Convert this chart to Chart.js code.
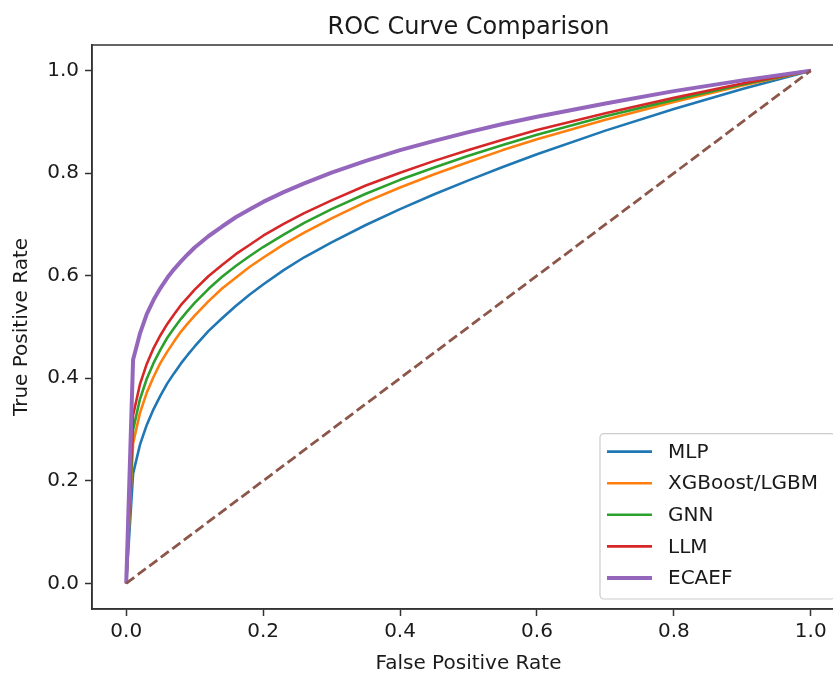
<!DOCTYPE html>
<html>
<head>
<meta charset="utf-8">
<script src="https://cdn.jsdelivr.net/npm/chart.js@4.4.1/dist/chart.umd.min.js"></script>
<style>
    html, body { margin: 0; padding: 0; overflow: hidden; background: #fff; }
    #wrap { width: 900px; height: 673px; }
</style>
</head>
<body>
<div id="wrap"><canvas id="rocChart" width="900" height="673"></canvas></div>
<script>
// values
const fpr = [0, 0.01, 0.02, 0.03, 0.04, 0.05, 0.06, 0.07, 0.08, 0.09, 0.1, 0.12, 0.14, 0.16, 0.18,
             0.2, 0.23, 0.26, 0.3, 0.35, 0.4, 0.45, 0.5, 0.55, 0.6, 0.7, 0.8, 0.9, 1.0];

const tprMLP   = [0, 0.214, 0.270, 0.309, 0.340, 0.366, 0.390, 0.410, 0.429, 0.446, 0.462, 0.492, 0.517, 0.541, 0.563,
                  0.583, 0.611, 0.636, 0.665, 0.699, 0.730, 0.759, 0.786, 0.812, 0.837, 0.883, 0.925, 0.964, 1.0];
const tprXGB   = [0, 0.273, 0.332, 0.372, 0.403, 0.430, 0.452, 0.472, 0.491, 0.507, 0.522, 0.550, 0.575, 0.596, 0.617,
                  0.635, 0.661, 0.684, 0.712, 0.744, 0.772, 0.798, 0.822, 0.845, 0.866, 0.904, 0.939, 0.971, 1.0];
const tprGNN   = [0, 0.299, 0.359, 0.399, 0.430, 0.456, 0.479, 0.498, 0.516, 0.532, 0.547, 0.574, 0.598, 0.619, 0.638,
                  0.656, 0.680, 0.703, 0.730, 0.760, 0.787, 0.811, 0.834, 0.855, 0.875, 0.911, 0.943, 0.973, 1.0];
const tprLLM   = [0, 0.328, 0.388, 0.428, 0.459, 0.484, 0.506, 0.525, 0.543, 0.558, 0.573, 0.599, 0.621, 0.642, 0.660,
                  0.678, 0.701, 0.722, 0.747, 0.776, 0.801, 0.824, 0.845, 0.865, 0.884, 0.917, 0.947, 0.975, 1.0];
const tprECAEF = [0, 0.436, 0.487, 0.525, 0.553, 0.576, 0.596, 0.613, 0.628, 0.642, 0.655, 0.677, 0.696, 0.714, 0.729,
                  0.744, 0.763, 0.780, 0.801, 0.824, 0.845, 0.863, 0.880, 0.896, 0.910, 0.936, 0.960, 0.981, 1.0];

const diagX = [0, 1];
const diagY = [0, 1];

const modelNames = ['MLP', 'XGBoost/LGBM', 'GNN', 'LLM', 'ECAEF'];
const tickValues = [0, 0.2, 0.4, 0.6, 0.8, 1.0];

const colors = ['#1f77b4', '#ff7f0e', '#2ca02c', '#d62728', '#9467bd'];
const widths = [2.6, 2.6, 2.6, 2.6, 4];

const toPoints = (xs, ys) => xs.map((x, i) => ({ x: x, y: ys[i] }));

const series = [tprMLP, tprXGB, tprGNN, tprLLM, tprECAEF];
const datasets = series.map((s, i) => ({
    label: modelNames[i],
    data: toPoints(fpr, s),
    borderColor: colors[i],
    borderWidth: widths[i],
    borderJoinStyle: 'round',
    pointRadius: 0,
    tension: 0,
    fill: false,
    order: 10 - i
}));
datasets.push({
    label: 'diagonal',
    data: toPoints(diagX, diagY),
    borderColor: '#8c564b',
    borderWidth: 2.8,
    borderDash: [10, 4.4],
    pointRadius: 0,
    fill: false,
    order: 0
});

const FONT = 'DejaVu Sans';
const TEXT = '#1a1a1a';

// top spine + legend box inside the axes (matplotlib style)
const framePlugin = {
    id: 'frame',
    afterDatasetsDraw(chart) {
        const { ctx, chartArea } = chart;
        ctx.save();
        ctx.strokeStyle = '#333';
        ctx.lineWidth = 1.5;
        ctx.strokeRect(chartArea.left, chartArea.top,
            chartArea.right - chartArea.left, chartArea.bottom - chartArea.top);

        // legend
        ctx.font = '20px "' + FONT + '"';
        const textW = Math.max(...modelNames.map(n => ctx.measureText(n).width));
        const rowH = 31.6;
        const boxW = 7 + 45 + 16 + textW + 17;
        const boxH = 18 + rowH * (modelNames.length - 1) + 21;
        const right = chartArea.right - 10;
        const bottom = chartArea.bottom - 10;
        const left = right - boxW;
        const top = bottom - boxH;
        ctx.beginPath();
        ctx.roundRect(left, top, boxW, boxH, 4);
        ctx.fillStyle = 'rgba(255,255,255,0.8)';
        ctx.fill();
        ctx.strokeStyle = '#cccccc';
        ctx.lineWidth = 1.2;
        ctx.stroke();

        ctx.textBaseline = 'middle';
        ctx.textAlign = 'left';
        modelNames.forEach((name, i) => {
            const y = top + 18 + i * rowH;
            ctx.beginPath();
            ctx.moveTo(left + 7, y);
            ctx.lineTo(left + 52, y);
            ctx.strokeStyle = colors[i];
            ctx.lineWidth = widths[i];
            ctx.stroke();
            ctx.fillStyle = TEXT;
            ctx.fillText(name, left + 68, y + 1);
        });
        ctx.restore();
    }
};

const axisCommon = {
    type: 'linear',
    min: -0.05,
    max: 1.05,
    afterBuildTicks: scale => { scale.ticks = tickValues.map(v => ({ value: v })); },
    grid: {
        drawOnChartArea: false,
        drawTicks: true,
        tickLength: 7,
        tickWidth: 1.5,
        tickColor: '#333'
    },
    border: { display: true, color: '#333', width: 1.5 }
};

new Chart(document.getElementById('rocChart').getContext('2d'), {
    type: 'line',
    data: { datasets: datasets },
    options: {
        responsive: false,
        animation: false,
        layout: { padding: { left: 0, right: 55, top: 0, bottom: 0 } },
        plugins: {
            legend: { display: false },
            tooltip: { enabled: false },
            title: {
                display: true,
                text: 'ROC Curve Comparison',
                fullSize: false,
                color: TEXT,
                font: { family: FONT, size: 24, weight: 'normal', lineHeight: 1.2 },
                padding: { top: 13, bottom: 3.2 }
            }
        },
        scales: {
            x: {
                ...axisCommon,
                afterFit: scale => { scale.height = 64; },
                ticks: {
                    color: TEXT,
                    padding: 4,
                    font: { family: FONT, size: 20 },
                    callback: v => v.toFixed(1)
                },
                title: {
                    display: true,
                    text: 'False Positive Rate',
                    color: TEXT,
                    font: { family: FONT, size: 20 },
                    padding: { top: 0, bottom: -3 }
                }
            },
            y: {
                ...axisCommon,
                afterFit: scale => { scale.width = 92; },
                ticks: {
                    color: TEXT,
                    padding: 6,
                    font: { family: FONT, size: 20 },
                    callback: v => v.toFixed(1)
                },
                title: {
                    display: true,
                    text: 'True Positive Rate',
                    color: TEXT,
                    font: { family: FONT, size: 20 },
                    padding: { top: 10, bottom: 0 }
                }
            }
        }
    },
    plugins: [framePlugin]
});
</script>
</body>
</html>
